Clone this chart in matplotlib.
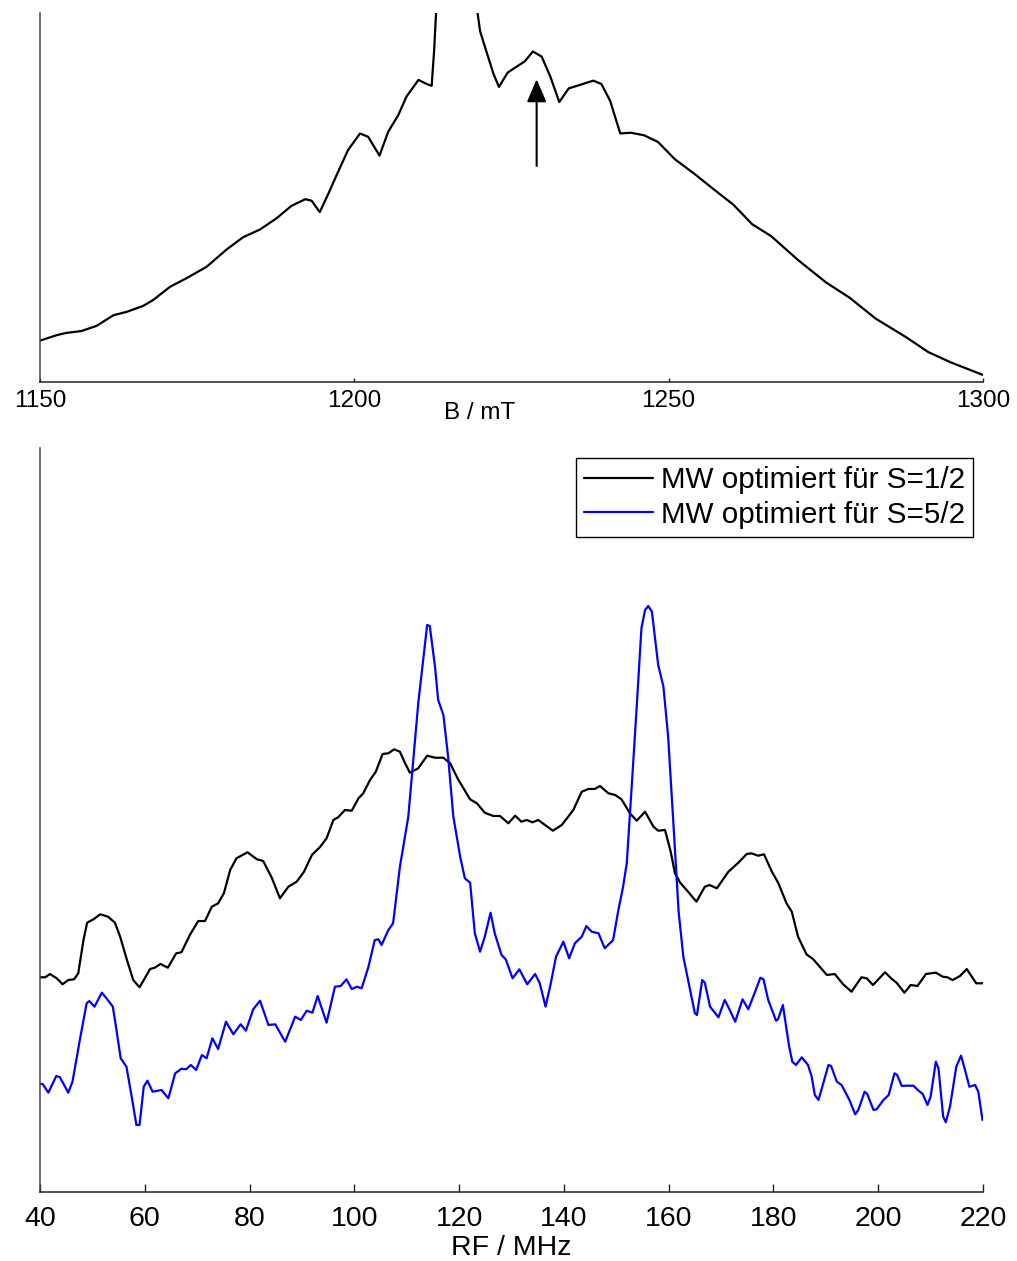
import numpy as np
import matplotlib.pyplot as plt

plt.rcParams['font.family'] = ['Liberation Sans', 'DejaVu Sans']

# field-swept EPR spectrum (arb. units, central line runs off scale)
field_mT = [1150.0, 1152.7, 1154.2, 1156.6, 1159.0, 1161.7, 1163.8, 1166.4, 1168.0, 1170.7,
            1173.3, 1176.5, 1179.7, 1182.3, 1185.0, 1187.6, 1190.0, 1192.2, 1193.2, 1194.5,
            1195.9, 1197.2, 1199.0, 1200.9, 1202.2, 1204.0, 1205.4, 1207.0, 1208.3, 1210.2,
            1211.5, 1212.3, 1212.7, 1213.0, 1213.5, 1216.0, 1219.0, 1219.6, 1220.0, 1221.1,
            1222.1, 1223.0, 1224.4, 1226.0, 1227.1, 1228.4, 1229.8, 1231.2, 1232.6, 1234.1,
            1235.8, 1238.0, 1239.3, 1240.7, 1242.3, 1244.0, 1246.1, 1248.3, 1251.0, 1254.3,
            1257.0, 1260.3, 1263.3, 1266.3, 1270.6, 1275.0, 1278.8, 1282.9, 1287.8, 1291.3,
            1294.9, 1300.0]
epr_signal = [11.2, 12.7, 13.3, 13.8, 15.2, 18.1, 19.0, 20.6, 22.2, 25.8,
              28.1, 31.2, 35.9, 39.2, 41.3, 44.3, 47.7, 49.5, 49.1, 46.0,
              51.1, 56.1, 62.8, 67.3, 66.4, 61.3, 67.8, 72.3, 77.3, 81.8,
              80.7, 80.2, 89.9, 100.0, 130.0, 180.0, 130.0, 100.0, 95.0, 89.0,
              83.6, 79.9, 83.8, 85.6, 86.8, 89.5, 88.1, 82.6, 75.8, 79.5,
              80.4, 81.6, 80.7, 76.1, 67.3, 67.5, 66.8, 65.0, 60.3, 56.1,
              52.4, 48.0, 42.7, 39.5, 33.0, 27.0, 22.8, 17.2, 12.1, 8.1,
              5.3, 1.9]
arrow_field = 1229.0
arrow_from, arrow_to = 58.5, 82.0

# ENDOR spectra
rf_half = [40.0, 41.0, 41.9, 43.2, 44.3, 45.4, 46.5, 47.3, 48.3, 49.0,
           50.2, 51.5, 53.0, 54.3, 55.3, 56.5, 57.8, 59.0, 60.0, 61.0,
           61.9, 63.0, 64.4, 66.0, 67.0, 68.6, 70.2, 71.5, 72.8, 74.0,
           75.1, 76.3, 77.5, 79.6, 81.4, 82.6, 84.2, 85.8, 87.4, 89.0,
           90.4, 91.9, 93.4, 94.7, 96.0, 96.9, 98.2, 99.5, 100.8, 101.7,
           103.0, 104.1, 105.4, 106.5, 107.6, 108.7, 109.7, 110.6, 112.2, 113.9,
           115.4, 117.0, 118.3, 119.8, 122.1, 123.4, 124.9, 126.5, 127.8, 129.4,
           130.7, 131.9, 132.9, 134.0, 135.1, 136.4, 137.9, 139.6, 141.8, 143.4,
           144.7, 145.9, 146.9, 148.5, 149.8, 151.0, 152.6, 153.9, 155.5, 157.1,
           158.0, 159.3, 160.4, 161.2, 162.2, 163.7, 165.3, 166.9, 167.8, 169.2,
           171.4, 173.3, 174.9, 175.8, 177.1, 178.2, 179.7, 180.9, 182.5, 183.5,
           184.7, 186.3, 187.6, 190.2, 191.7, 193.3, 194.9, 196.8, 197.8, 199.0,
           201.3, 202.6, 203.5, 205.0, 206.2, 207.5, 209.1, 211.0, 212.3, 213.2,
           214.2, 215.6, 216.9, 218.7, 219.8, 220.0]
endor_half = [28.86, 28.86, 29.30, 28.72, 27.92, 28.49, 28.59, 29.39, 33.87, 36.20,
              36.65, 37.33, 37.00, 36.20, 34.31, 31.41, 28.49, 27.51, 28.72, 29.97,
              30.15, 30.65, 30.15, 32.08, 32.22, 34.54, 36.42, 36.42, 38.35, 38.80,
              40.15, 43.28, 44.85, 45.66, 44.72, 44.49, 42.30, 39.48, 41.03, 41.71,
              43.05, 45.30, 46.33, 47.54, 50.00, 50.36, 51.34, 51.25, 52.92, 53.59,
              55.38, 56.49, 58.87, 58.97, 59.50, 59.18, 57.62, 56.36, 56.95, 58.64,
              58.37, 58.37, 57.62, 55.47, 52.78, 52.24, 50.98, 50.54, 50.54, 49.56,
              50.58, 49.77, 50.00, 49.69, 50.00, 49.33, 48.56, 49.33, 51.34, 53.80,
              54.17, 54.17, 54.57, 53.59, 53.36, 52.78, 50.90, 49.91, 51.11, 49.10,
              48.56, 48.66, 45.70, 42.84, 41.57, 40.36, 39.02, 41.03, 41.26, 40.82,
              43.05, 44.26, 45.43, 45.52, 45.20, 45.39, 43.05, 41.57, 38.80, 37.67,
              34.31, 31.95, 31.28, 29.17, 29.30, 27.92, 26.92, 28.86, 28.72, 27.82,
              29.53, 28.63, 28.13, 26.79, 27.82, 27.69, 29.30, 29.48, 28.94, 28.86,
              28.49, 29.03, 29.97, 28.05, 28.05, 28.09]

rf_five = [40.0, 40.5, 41.6, 43.1, 43.8, 45.4, 46.2, 47.6, 48.9, 49.4,
           50.4, 51.8, 52.7, 53.9, 54.6, 55.4, 56.5, 57.5, 58.4, 59.0,
           59.8, 60.5, 61.5, 63.2, 64.5, 65.8, 67.0, 67.9, 68.8, 69.8,
           70.9, 71.8, 72.9, 74.0, 75.5, 76.9, 78.3, 79.3, 80.7, 82.0,
           83.6, 84.9, 86.8, 88.7, 89.8, 90.9, 92.0, 93.0, 94.7, 96.3,
           97.4, 98.5, 99.5, 100.5, 101.4, 102.7, 103.9, 104.6, 105.2, 106.5,
           107.4, 108.7, 110.3, 111.3, 112.2, 113.2, 113.9, 114.4, 115.4, 116.0,
           117.0, 117.9, 118.9, 120.2, 121.1, 122.1, 123.0, 124.0, 124.9, 126.0,
           126.8, 128.1, 128.9, 130.2, 131.5, 133.0, 134.5, 135.4, 136.5, 137.5,
           138.5, 139.9, 141.0, 142.1, 143.4, 144.3, 145.3, 146.6, 147.8, 149.4,
           150.4, 151.3, 152.0, 152.9, 153.9, 154.8, 155.5, 156.1, 156.8, 158.0,
           159.0, 159.9, 160.9, 161.9, 162.8, 163.7, 165.0, 165.4, 166.4, 166.9,
           167.9, 169.5, 170.7, 171.6, 172.7, 174.1, 175.2, 176.5, 177.5, 178.1,
           179.0, 180.5, 180.9, 181.8, 183.0, 183.6, 184.3, 185.4, 186.6, 187.3,
           187.9, 188.6, 189.5, 190.5, 191.0, 192.1, 193.0, 194.5, 195.6, 196.2,
           197.4, 197.9, 199.1, 199.7, 201.0, 202.0, 203.1, 203.6, 204.5, 205.4,
           206.7, 207.7, 208.5, 209.4, 210.0, 211.0, 211.5, 212.4, 212.9, 213.7,
           214.9, 215.8, 216.4, 217.4, 218.5, 219.1, 219.9]
endor_five = [14.52, 14.52, 13.35, 15.59, 15.42, 13.35, 14.83, 20.43, 25.36, 25.67,
              24.91, 26.79, 26.03, 24.91, 21.77, 17.97, 16.84, 12.81, 9.01, 9.01,
              14.15, 14.96, 13.48, 13.71, 12.59, 15.95, 16.57, 16.49, 17.07, 16.40,
              18.41, 17.97, 20.66, 19.22, 22.89, 21.20, 22.54, 21.68, 24.56, 25.71,
              22.45, 22.54, 20.20, 23.56, 23.12, 24.37, 24.10, 26.34, 22.76, 27.59,
              27.69, 28.59, 27.28, 27.59, 27.38, 30.28, 33.87, 33.96, 33.20, 35.22,
              36.12, 43.72, 50.44, 58.51, 65.68, 71.95, 76.21, 76.08, 70.60, 66.13,
              64.11, 58.51, 50.44, 45.07, 42.16, 41.57, 34.77, 32.30, 34.31, 37.54,
              34.77, 31.85, 31.28, 28.72, 29.93, 27.92, 29.30, 28.05, 24.91, 28.05,
              31.63, 33.64, 31.41, 33.43, 34.31, 35.75, 34.99, 34.77, 32.76, 33.87,
              37.90, 41.03, 44.18, 54.03, 65.23, 75.77, 78.23, 78.76, 78.00, 70.83,
              67.92, 61.20, 49.56, 37.67, 31.63, 28.49, 24.02, 23.79, 28.49, 28.13,
              24.91, 23.48, 25.81, 24.56, 22.89, 25.90, 24.56, 26.92, 28.80, 28.59,
              25.81, 23.02, 23.25, 25.13, 19.53, 17.51, 17.07, 18.10, 17.07, 15.50,
              13.04, 12.37, 14.61, 17.07, 16.94, 14.83, 14.38, 12.37, 10.44, 11.02,
              13.48, 13.17, 11.02, 11.12, 12.37, 13.04, 15.95, 15.73, 14.25, 14.29,
              14.29, 13.62, 13.17, 11.69, 12.81, 17.51, 16.63, 10.12, 9.37, 11.47,
              16.84, 18.32, 16.84, 14.15, 14.38, 13.48, 9.68]

labels = ['MW optimiert für S=1/2', 'MW optimiert für S=5/2']

W, H = 1017, 1261
fig = plt.figure(figsize=(W / 100, H / 100), dpi=100)
ax1 = fig.add_axes([40 / W, 1 - 382 / H, 943 / W, 369.3 / H])
ax2 = fig.add_axes([40 / W, 1 - 1192 / H, 943 / W, 744 / H])

line_kw = dict(lw=1.6, solid_joinstyle='round', solid_capstyle='round')


def style_axis(ax, ticksize, ticklen, pad):
    for s in ['top', 'right']:
        ax.spines[s].set_visible(False)
    ax.spines['left'].set_color('#444444')
    ax.spines['bottom'].set_color('#222222')
    ax.spines['left'].set_linewidth(1.1)
    ax.spines['bottom'].set_linewidth(1.1)
    ax.set_yticks([])
    ax.tick_params(axis='x', direction='in', length=ticklen, width=1.0,
                   labelsize=ticksize, pad=pad, color='#222222')


# top: EPR spectrum
ax1.plot(field_mT, epr_signal, color='black', **line_kw)
ax1.set_xlim(1150, 1300)
ax1.set_ylim(0, 100)
ax1.set_xticks([1150, 1200, 1250, 1300])
style_axis(ax1, 17.5, 3.2, 5.5)
ax1.set_xlabel('B / mT', fontsize=17.5, labelpad=0)
ax1.xaxis.set_label_coords((480 - 40) / 943, -0.055, transform=ax1.transAxes)
ax1.xaxis.label.set_va('top')
ax1.annotate('', xy=(arrow_field, arrow_to), xytext=(arrow_field, arrow_from),
             arrowprops=dict(arrowstyle='-|>,head_length=0.7,head_width=0.3',
                             color='black', lw=1.5, mutation_scale=20,
                             shrinkA=0, shrinkB=0))

# bottom: ENDOR spectra
ax2.plot(rf_half, endor_half, color='black', label=labels[0], **line_kw)
ax2.plot(rf_five, endor_five, color='#0000ff', label=labels[1], **line_kw)
ax2.set_xlim(40, 220)
ax2.set_ylim(0, 100)
ax2.set_xticks(np.arange(40, 221, 20))
style_axis(ax2, 20.5, 6, 10)
ax2.set_xlabel('RF / MHz', fontsize=20.5, labelpad=2)

leg = ax2.legend(loc='upper right', fontsize=21.3, frameon=True, fancybox=False,
                 edgecolor='black', framealpha=1, borderpad=0.28, borderaxespad=0.33,
                 handlelength=2.35, handletextpad=0.25, labelspacing=0.22)
leg.get_frame().set_linewidth(1.0)

fig.savefig('out.png', dpi=100)
